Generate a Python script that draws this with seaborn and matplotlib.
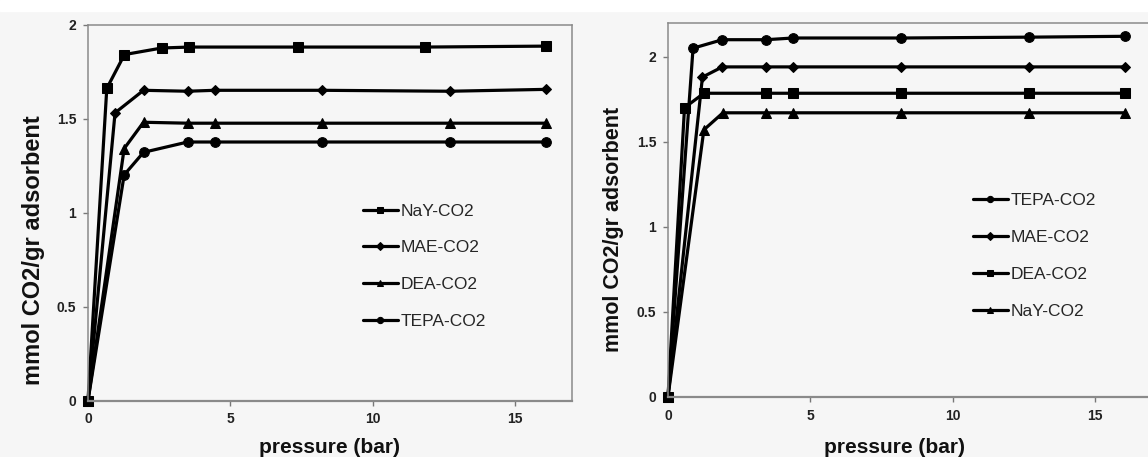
import pandas as pd
import matplotlib.pyplot as plt
import seaborn as sns

# left panel: series ordered as in its legend
left_names = ['NaY-CO2', 'MAE-CO2', 'DEA-CO2', 'TEPA-CO2']
left_x = {
    'NaY-CO2': [0, 0.66, 1.28, 2.59, 3.56, 7.37, 11.83, 16.1],
    'MAE-CO2': [0, 0.95, 1.95, 3.5, 4.45, 8.23, 12.71, 16.1],
    'DEA-CO2': [0, 1.27, 1.95, 3.5, 4.45, 8.23, 12.71, 16.1],
    'TEPA-CO2': [0, 1.27, 1.95, 3.5, 4.45, 8.23, 12.71, 16.1],
}
left_y = {
    'NaY-CO2': [0, 1.66, 1.84, 1.875, 1.88, 1.88, 1.88, 1.885],
    'MAE-CO2': [0, 1.53, 1.65, 1.645, 1.65, 1.65, 1.645, 1.655],
    'DEA-CO2': [0, 1.34, 1.48, 1.475, 1.475, 1.475, 1.475, 1.475],
    'TEPA-CO2': [0, 1.20, 1.32, 1.375, 1.375, 1.375, 1.375, 1.375],
}
left_markers = {'NaY-CO2': 's', 'MAE-CO2': 'D', 'DEA-CO2': '^', 'TEPA-CO2': 'o'}

# right panel
right_names = ['TEPA-CO2', 'MAE-CO2', 'DEA-CO2', 'NaY-CO2']
right_x = {
    'TEPA-CO2': [0, 0.88, 1.91, 3.45, 4.39, 8.19, 12.69, 16.06],
    'MAE-CO2': [0, 1.21, 1.91, 3.45, 4.39, 8.19, 12.69, 16.06],
    'DEA-CO2': [0, 0.58, 1.26, 3.45, 4.39, 8.19, 12.69, 16.06],
    'NaY-CO2': [0, 1.26, 1.93, 3.45, 4.39, 8.19, 12.69, 16.06],
}
right_y = {
    'TEPA-CO2': [0, 2.05, 2.10, 2.10, 2.11, 2.11, 2.115, 2.12],
    'MAE-CO2': [0, 1.88, 1.94, 1.94, 1.94, 1.94, 1.94, 1.94],
    'DEA-CO2': [0, 1.70, 1.785, 1.785, 1.785, 1.785, 1.785, 1.785],
    'NaY-CO2': [0, 1.57, 1.67, 1.67, 1.67, 1.67, 1.67, 1.67],
}
right_markers = {'TEPA-CO2': 'o', 'MAE-CO2': 'D', 'DEA-CO2': 's', 'NaY-CO2': '^'}

y_ticks = [0, 0.5, 1, 1.5, 2]
y_ticklabels = ['0', '0.5', '1', '1.5', '2']
x_ticks = [0, 5, 10, 15]
x_label = 'pressure (bar)'
y_label = 'mmol CO2/gr adsorbent'


def to_frame(names, xs, ys):
    rows = []
    for n in names:
        for x, y in zip(xs[n], ys[n]):
            rows.append({'series': n, 'pressure': x, 'uptake': y})
    return pd.DataFrame(rows)


sns.set_theme(style='ticks')
plt.rcParams['font.family'] = ['Liberation Sans', 'DejaVu Sans']

bg = '#f6f6f6'
fig = plt.figure(figsize=(11.48, 4.57), dpi=100, facecolor=bg)

panels = [
    dict(names=left_names, xs=left_x, ys=left_y, markers=left_markers,
         rect=[88 / 1148, 56.5 / 457, 484 / 1148, 376 / 457], ylim=2.0,
         leg=(0.568, 0.524), ylab_pos=(-0.089, 0.40), ylab_size=17,
         xlab_pos=(0.498, -0.101)),
    dict(names=right_names, xs=right_x, ys=right_y, markers=right_markers,
         rect=[668 / 1148, 60.3 / 457, 484 / 1148, 374 / 457], ylim=2.2,
         leg=(0.630, 0.545), ylab_pos=(-0.091, 0.448), ylab_size=15.5,
         xlab_pos=(0.469, -0.110)),
]

for p in panels:
    ax = fig.add_axes(p['rect'])
    ax.set_facecolor(bg)
    df = to_frame(p['names'], p['xs'], p['ys'])
    sns.lineplot(data=df, x='pressure', y='uptake', hue='series', style='series',
                 hue_order=p['names'], style_order=p['names'],
                 palette={n: 'black' for n in p['names']},
                 markers=p['markers'], dashes=False, sort=False,
                 linewidth=2.3, markersize=7, markeredgecolor='black',
                 clip_on=False, ax=ax)
    # diamonds read larger than the other shapes at the same size
    for line in ax.get_lines():
        if line.get_marker() == 'D':
            line.set_markersize(5.5)

    handles = ax.get_legend().legend_handles
    ax.get_legend().remove()
    for h in handles:
        h.set_markersize(4.5)
        h.set_linewidth(2.3)
    ax.legend(handles, p['names'], loc='upper left', bbox_to_anchor=p['leg'],
              frameon=False, borderpad=0, borderaxespad=0, handlelength=2.0,
              handletextpad=0.15, labelspacing=1.25,
              prop={'family': 'Liberation Sans', 'size': 12.5})

    ax.set_xlim(0, 17)
    ax.set_ylim(0, p['ylim'])
    ax.set_xticks(x_ticks)
    ax.set_xticklabels([str(t) for t in x_ticks])
    ax.set_yticks(y_ticks)
    ax.set_yticklabels(y_ticklabels)
    ax.tick_params(direction='out', length=3.5, width=1, color='#777777',
                   labelsize=10, labelcolor='#222222', pad=5)
    for lbl in ax.get_xticklabels() + ax.get_yticklabels():
        lbl.set_fontweight('bold')
    for s in ax.spines.values():
        s.set_color('#8a8a8a')
        s.set_linewidth(1.1)
    ax.spines['bottom'].set_linewidth(1.6)

    ax.set_xlabel(x_label, fontsize=15, fontweight='bold', color='#111111')
    ax.set_ylabel(y_label, fontsize=p['ylab_size'], fontweight='bold', color='#111111')
    ax.xaxis.set_label_coords(*p['xlab_pos'])
    ax.yaxis.set_label_coords(*p['ylab_pos'])

# white strip along the top edge, as in the scanned figure
fig.add_artist(plt.Rectangle((0, 1 - 11 / 457), 1, 11 / 457,
                             transform=fig.transFigure, color='white', zorder=-1))

fig.savefig('out.png', dpi=100, facecolor=fig.get_facecolor())
